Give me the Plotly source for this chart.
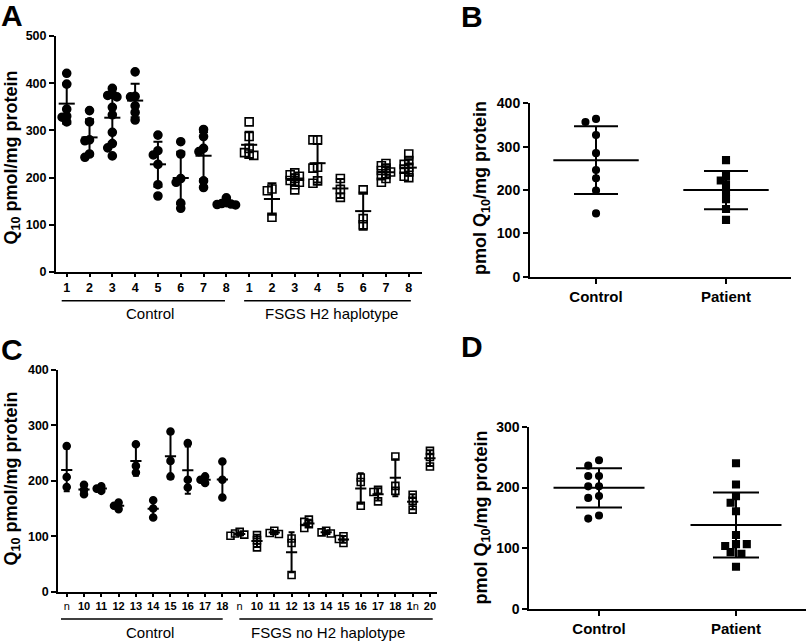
import numpy as np
import plotly.graph_objects as go

W, H = 807, 641
FONT = "Liberation Sans, Arial, sans-serif"

# ---- data ----
a_labels = ["1", "2", "3", "4", "5", "6", "7", "8", "1", "2", "3", "4", "5", "6", "7", "8"]
a_control = [
    [421, 398, 345, 330, 328, 318],
    [342, 318, 280, 278, 250, 243],
    [389, 376, 374, 371, 349, 333, 296, 272, 263, 246],
    [424, 372, 371, 352, 338, 322],
    [290, 257, 248, 228, 185, 161],
    [276, 250, 198, 190, 146, 135],
    [302, 287, 262, 255, 193, 179],
    [157, 147, 145, 144, 143, 142],
]
a_fsgs = [
    [318, 287, 262, 253, 250, 247],
    [176, 172, 116],
    [210, 206, 203, 198, 194, 190, 185, 174],
    [280, 280, 222, 220, 193, 188],
    [198, 175, 158],
    [174, 113, 100],
    [230, 225, 220, 215, 212, 208, 204, 198, 190],
    [250, 236, 228, 222, 218, 212, 203, 200],
]

b_labels = ["Control", "Patient"]
b_control = [364, 357, 327, 285, 246, 227, 199, 146]
b_patient = [269, 232, 222, 213, 196, 179, 156, 131]

c_labels = ["n", "10", "11", "12", "13", "14", "15", "16", "17", "18",
            "n", "10", "11", "12", "13", "14", "15", "16", "17", "18", "1n", "20"]
c_control = [
    [263, 207, 189],
    [193, 184, 176],
    [190, 186, 182],
    [161, 155, 149],
    [266, 227, 215],
    [165, 150, 134],
    [289, 236, 208],
    [268, 202, 188],
    [208, 202, 196],
    [235, 202, 170],
]
c_fsgs = [
    [108, 105, 103, 101],
    [102, 93, 80],
    [110, 106, 104],
    [96, 88, 30],
    [130, 126, 122, 115],
    [110, 107, 105],
    [100, 95, 88],
    [206, 198, 155],
    [184, 180, 163],
    [244, 191, 182],
    [175, 164, 148],
    [254, 243, 226],
]

d_labels = ["Control", "Patient"]
d_control = [245, 236, 219, 219, 202, 202, 186, 183, 154, 149]
d_patient = [240, 205, 186, 175, 161, 122, 107, 104, 107, 94, 91, 70]


def fx(x):
    return x / W


def fy(y):
    return 1 - y / H


def dom(x0, x1, ytop, ybot):
    return [fx(x0), fx(x1)], [fy(ybot), fy(ytop)]


def swarm(vals, ppu, ppc, step, gap):
    # simple beeswarm: spread points sideways when they would overlap
    placed, offs = [], []
    for v in vals:
        y = v * ppu
        for k in [0, -1, 1, -2, 2, -3, 3, -4, 4, -5, 5]:
            x = k * step
            if all(np.hypot(x - a, y - b) >= gap for a, b in placed):
                break
        placed.append((x, y))
        offs.append(x / ppc)
    return offs


fig = go.Figure()


def panel(groups, symbols, sizes, xa, ya, ppu, ppc, step, gap, mean_size, cap):
    xs, ys, syms = [], [], []
    for i, vals in enumerate(groups):
        offs = swarm(vals, ppu, ppc, step, gap)
        xs += [i + o for o in offs]
        ys += list(vals)
        syms += [symbols[i]] * len(vals)
    fig.add_trace(go.Scatter(
        x=xs, y=ys, mode="markers", xaxis=xa, yaxis=ya, showlegend=False,
        marker=dict(symbol=syms, size=sizes, color="black",
                    line=dict(color="black", width=1.6)),
    ))
    means = [np.mean(v) for v in groups]
    sds = [np.std(v, ddof=1) for v in groups]
    fig.add_trace(go.Scatter(
        x=list(range(len(groups))), y=means, mode="markers", xaxis=xa, yaxis=ya,
        showlegend=False,
        marker=dict(symbol="line-ew", size=mean_size, line=dict(color="black", width=2)),
        error_y=dict(type="data", array=sds, visible=True, width=cap, thickness=2, color="black"),
    ))


# A
panel(a_control + a_fsgs, ["circle"] * 8 + ["square-open"] * 8, 8, "x", "y",
      236 / 500, 22.8, 4.6, 4.4, 11.5, 4.5)
# B
panel([b_control, b_patient], ["circle", "square"], 6.5, "x2", "y2",
      173.4 / 400, 130.5, 5.3, 6.5, 61, 22)
# C
panel(c_control + c_fsgs, ["circle"] * 10 + ["square-open"] * 12, 7, "x3", "y3",
      221.7 / 400, 17.3, 4.6, 4.4, 8, 3)
# D
panel([d_control, d_patient], ["circle", "square"], 6.5, "x4", "y4",
      182.6 / 300, 137, 5.4, 8, 65, 23)

tick_bold = dict(family=FONT, color="black", weight="bold")


def yaxis(dm, rng, anchor, fs):
    return dict(domain=dm, range=rng, anchor=anchor, showline=True, linewidth=2,
                linecolor="black", ticks="outside", ticklen=5, tickwidth=2,
                tickcolor="black", dtick=100, showgrid=False, zeroline=False,
                automargin=False, tickfont=dict(tick_bold, size=fs))


def xaxis(dm, rng, anchor, labels, fs, ticklen, weight="bold"):
    return dict(domain=dm, range=rng, anchor=anchor, showline=True, linewidth=2,
                linecolor="black", ticks="outside", ticklen=ticklen, tickwidth=1.5,
                tickcolor="black", tickmode="array", tickvals=list(range(len(labels))),
                ticktext=labels, showgrid=False, zeroline=False, automargin=False,
                tickfont=dict(family=FONT, color="black", size=fs, weight=weight))


axA_x, axA_y = dom(56, 422, 36, 272)
axB_x, axB_y = dom(530, 791, 103.3, 276.7)
axC_x, axC_y = dom(58.3, 436.7, 370, 591.7)
axD_x, axD_y = dom(529.3, 806, 426.7, 609.3)

c_ticktext = ["<b>%s</b>" % t if t.isdigit() else ("<b>1</b>n" if t == "1n" else t)
              for t in c_labels]

fig.update_layout(
    width=W, height=H, margin=dict(l=0, r=0, t=0, b=0),
    paper_bgcolor="white", plot_bgcolor="white",
    font=dict(family=FONT, color="black"),
    xaxis=xaxis(axA_x, [-0.47, 15.58], "y", a_labels, 12.5, 3),
    yaxis=yaxis(axA_y, [0, 500], "x", 12.5),
    xaxis2=xaxis(axB_x, [-0.508, 1.5], "y2", b_labels, 15, 5),
    yaxis2=yaxis(axB_y, [0, 400], "x2", 14),
    xaxis3=xaxis(axC_x, [-0.486, 21.39], "y3", c_ticktext, 11, 3, weight="normal"),
    yaxis3=yaxis(axC_y, [0, 400], "x3", 12.5),
    xaxis4=xaxis(axD_x, [-0.509, 1.511], "y4", d_labels, 15, 5),
    yaxis4=yaxis(axD_y, [0, 300], "x4", 14),
)

# group brackets under the category axes
brackets = [
    ("x", -0.22, 6.94, 300.7, "Control", 3.65, 313),
    ("x", 7.78, 15.09, 300.7, "FSGS H2 haplotype", 11.6, 313),
    ("x3", -0.33, 9.02, 619, "Control", 4.8, 632),
    ("x3", 9.98, 21.16, 619, "FSGS no H2 haplotype", 15.08, 632),
]
for xr, x0, x1, yl, txt, xc, yt in brackets:
    fig.add_shape(type="line", xref=xr, yref="paper", x0=x0, x1=x1,
                  y0=fy(yl), y1=fy(yl), line=dict(color="black", width=1.5))
    fig.add_annotation(xref=xr, yref="paper", x=xc, y=fy(yt), text=txt,
                       xanchor="center", yanchor="middle", showarrow=False,
                       font=dict(family=FONT, size=15, color="black"))

# panel letters
for letter, x, y in [("A", 12, 15), ("B", 472, 17), ("C", 12, 349), ("D", 472, 346)]:
    fig.add_annotation(xref="paper", yref="paper", x=fx(x), y=fy(y), text="<b>%s</b>" % letter,
                       xanchor="center", yanchor="middle", showarrow=False,
                       font=dict(family=FONT, size=30, color="black"))

# y-axis titles
titles = [
    ("<b>Q<sub>10</sub> pmol/mg protein</b>", 12, 157.5),
    ("<b>pmol Q<sub>10</sub>/mg protein</b>", 481.5, 188.5),
    ("<b>Q<sub>10</sub> pmol/mg protein</b>", 12.5, 479),
    ("<b>pmol Q<sub>10</sub>/mg protein</b>", 481.5, 518),
]
for txt, x, y in titles:
    fig.add_annotation(xref="paper", yref="paper", x=fx(x), y=fy(y), text=txt,
                       textangle=-90, xanchor="center", yanchor="middle", showarrow=False,
                       font=dict(family=FONT, size=18, color="black"))

# drop the page's default body margin so the figure sits at the window corner
fig.write_html("out.html", config={"displayModeBar": False},
               post_script="document.body.style.margin = '0';")
